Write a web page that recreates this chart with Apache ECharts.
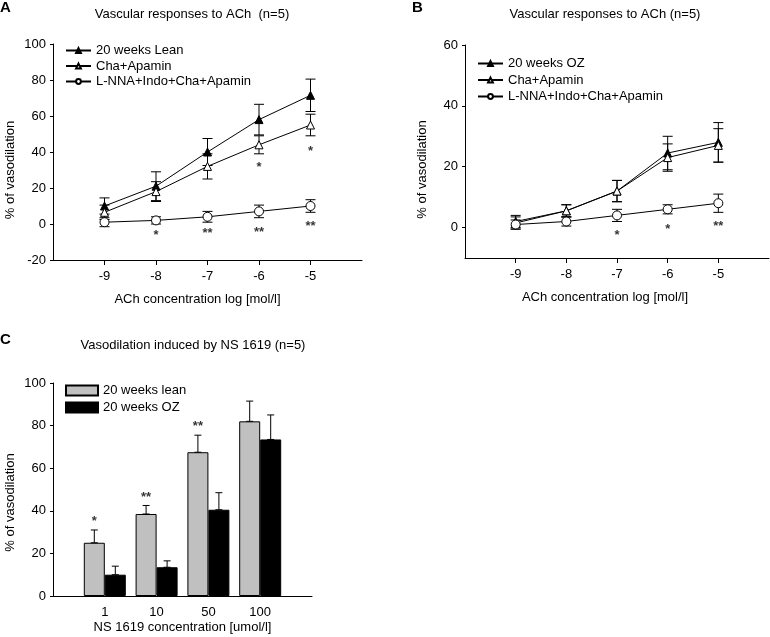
<!DOCTYPE html>
<html>
<head>
<meta charset="utf-8">
<script src="https://cdn.jsdelivr.net/npm/echarts@6/dist/echarts.min.js"></script>
<style>
  html, body { margin: 0; padding: 0; background: #fff; }
  #main { width: 770px; height: 637px; }
</style>
</head>
<body>
<div id="main"></div>
<script>
// panel A / B: log [ACh]
const logConc = [-9, -8, -7, -6, -5]

const leanMean = [10, 21, 40, 58, 71.5]
const leanSem = [4.5, 8, 7.5, 8.5, 9]
const chaLeanMean = [6.5, 18, 32, 44, 55]
const chaLeanSem = [4, 5.5, 7, 5, 6]
const lnnaLeanMean = [1, 2, 4, 7, 10]
const lnnaLeanSem = [2.5, 2, 3, 3.5, 3.5]

const ozMean = [2, 5.5, 12, 24.5, 28]
const ozSem = [2, 2, 3.5, 5.5, 6.5]
const chaOzMean = [1.5, 5.5, 12, 23, 27]
const chaOzSem = [2, 2, 3.5, 4.5, 5.5]
const lnnaOzMean = [1, 2, 4, 6, 8]
const lnnaOzSem = [1.5, 1.5, 2, 1.5, 3]

// significance marks [x, y, text]
const starsA = [[-8, -6.5, '*'], [-7, -5.5, '**'], [-6, -4.5, '**'], [-5, -1.5, '**'], [-6, 31.5, '*'], [-5, 40.5, '*']]
const starsB = [[-7, -2.5, '*'], [-6, -0.5, '*'], [-5, 0.5, '**']]

// panel C: NS 1619
const nsCats = ['1', '10', '50', '100']
const nsLeanMean = [25, 38.5, 67.5, 82]
const nsLeanSem = [6, 4, 8, 9.5]
const nsOzMean = [10, 13.5, 40.5, 73.5]
const nsOzSem = [4, 3, 8, 11.5]
const starsC = ['*', '**', '**']

const yTicksA = [-20, 0, 20, 40, 60, 80, 100]
const yTicksB = [0, 20, 40, 60]
const xTicks = [-9, -8, -7, -6, -5]

const FONT = '"Liberation Sans", Arial, sans-serif'
const txt = { color: '#000', fontFamily: FONT, fontSize: 13 }

var myChart = echarts.init(document.getElementById('main'))

function pairs(xs, ys) {
  return xs.map((x, i) => [x, ys[i]])
}

// error bar: [x, low, high], offset in px, cap half width
function errBars(xAxisIndex, yAxisIndex, data, capHalf, offset) {
  return {
    type: 'custom',
    xAxisIndex: xAxisIndex,
    yAxisIndex: yAxisIndex,
    z: 3,
    silent: true,
    data: data,
    renderItem: function (params, api) {
      const lo = api.coord([api.value(0), api.value(1)])
      const hi = api.coord([api.value(0), api.value(2)])
      const x = lo[0] + (offset || 0)
      const style = { stroke: '#000', lineWidth: 1 }
      return {
        type: 'group',
        children: [
          { type: 'line', shape: { x1: x, y1: lo[1], x2: x, y2: hi[1] }, style: style },
          { type: 'line', shape: { x1: x - capHalf, y1: hi[1], x2: x + capHalf, y2: hi[1] }, style: style },
          { type: 'line', shape: { x1: x - capHalf, y1: lo[1], x2: x + capHalf, y2: lo[1] }, style: style },
        ],
      }
    },
  }
}

function symErr(xs, mean, sem) {
  return xs.map((x, i) => [x, mean[i] - sem[i], mean[i] + sem[i]])
}

function lineSeries(name, xi, yi, xs, ys, symbol, filled, size) {
  return {
    name: name,
    type: 'line',
    xAxisIndex: xi,
    yAxisIndex: yi,
    data: pairs(xs, ys),
    symbol: symbol,
    symbolSize: size,
    showSymbol: true,
    z: 4,
    lineStyle: { color: '#000', width: 1 },
    itemStyle: { color: filled ? '#000' : '#fff', borderColor: '#000', borderWidth: 1 },
  }
}

function starSeries(xi, yi, data, offset) {
  return {
    type: 'scatter',
    xAxisIndex: xi,
    yAxisIndex: yi,
    symbolSize: 0,
    silent: true,
    z: 5,
    data: data.map((d) => ({ value: [d[0], d[1]], name: d[2] })),
    label: {
      show: true,
      position: 'inside',
      formatter: '{b}',
      offset: [offset || 0, 0],
      color: '#000',
      fontFamily: FONT,
      fontSize: 13,
      fontWeight: 'bold',
    },
  }
}

const logAxis = (gridIndex, nameShift) => ({
  type: 'value',
  gridIndex: gridIndex,
  min: -10,
  max: -4,
  name: 'ACh concentration log [mol/l]',
  nameLocation: 'middle',
  nameGap: 33,
  nameTextStyle: Object.assign({ padding: [0, nameShift, 0, 0] }, txt),
  splitLine: { show: false },
  axisLine: { onZero: false, lineStyle: { color: '#000', width: 1 } },
  axisTick: { customValues: xTicks, length: 5, lineStyle: { color: '#000' } },
  axisLabel: Object.assign({ customValues: xTicks, margin: 10 }, txt),
})

const valAxis = (gridIndex, min, max, ticks, nameShift) => ({
  type: 'value',
  gridIndex: gridIndex,
  min: min,
  max: max,
  name: '% of vasodilation',
  nameLocation: 'middle',
  nameGap: 36,
  nameTextStyle: Object.assign({ padding: [0, nameShift, 0, 0] }, txt),
  splitLine: { show: false },
  axisLine: { show: true, onZero: false, lineStyle: { color: '#000', width: 1 } },
  axisTick: { show: true, customValues: ticks, length: 3, lineStyle: { color: '#000' } },
  axisLabel: Object.assign({ customValues: ticks, margin: 7 }, txt),
})

const legendTxt = { color: '#000', fontFamily: FONT, fontSize: 13 }

let option = {
  animation: false,
  backgroundColor: '#fff',
  title: [
    { text: 'A', left: 0, top: 0, padding: 0, textStyle: { fontFamily: FONT, fontSize: 15, fontWeight: 'bold', color: '#000' } },
    { text: 'B', left: 412, top: 0, padding: 0, textStyle: { fontFamily: FONT, fontSize: 15, fontWeight: 'bold', color: '#000' } },
    { text: 'C', left: 0, top: 332, padding: 0, textStyle: { fontFamily: FONT, fontSize: 15, fontWeight: 'bold', color: '#000' } },
    { text: 'Vascular responses to ACh  (n=5)', left: 192, top: 8, padding: 0, textAlign: 'center', textStyle: { fontFamily: FONT, fontSize: 13, fontWeight: 'normal', color: '#000' } },
    { text: 'Vascular responses to ACh (n=5)', left: 605, top: 8, padding: 0, textAlign: 'center', textStyle: { fontFamily: FONT, fontSize: 13, fontWeight: 'normal', color: '#000' } },
    { text: 'Vasodilation induced by NS 1619 (n=5)', left: 193, top: 339, padding: 0, textAlign: 'center', textStyle: { fontFamily: FONT, fontSize: 13, fontWeight: 'normal', color: '#000' } },
  ],
  legend: [
    {
      left: 65, top: 44, padding: 0, orient: 'vertical', itemWidth: 25, itemHeight: 6, itemGap: 2.5,
      textStyle: legendTxt, selectedMode: false,
      data: ['20 weeks Lean', 'Cha+Apamin', 'L-NNA+Indo+Cha+Apamin'],
    },
    {
      left: 477, top: 57, padding: 0, orient: 'vertical', itemWidth: 25, itemHeight: 6, itemGap: 3.5,
      textStyle: legendTxt, selectedMode: false,
      data: ['20 weeks OZ', 'Cha+Apamin', 'L-NNA+Indo+Cha+Apamin'],
    },
    {
      left: 65, top: 384, padding: 0, orient: 'vertical', itemWidth: 32, itemHeight: 10, itemGap: 4,
      textStyle: legendTxt, selectedMode: false, icon: 'rect',
      data: ['20 weeks lean', '20 weeks OZ '],
    },
  ],
  grid: [
    { left: 53, top: 44, width: 309, height: 216 },
    { left: 465, top: 45, width: 304, height: 213 },
    { left: 53, top: 383, width: 259, height: 213 },
  ],
  xAxis: [
    logAxis(0, 20),
    logAxis(1, 24),
    {
      type: 'category',
      gridIndex: 2,
      data: [''].concat(nsCats, ['']),
      boundaryGap: false,
      name: 'NS 1619 concentration [umol/l]',
      nameLocation: 'middle',
      nameGap: 25,
      nameTextStyle: txt,
      axisLine: { onZero: false, lineStyle: { color: '#000', width: 1 } },
      axisTick: { show: false },
      axisLabel: Object.assign({ margin: 10, interval: 0 }, txt),
    },
  ],
  yAxis: [
    valAxis(0, -20, 100, yTicksA, 36),
    valAxis(1, -10, 60, yTicksB, 36),
    Object.assign(valAxis(2, 0, 100, yTicksA.slice(1), 26), { interval: 20 }),
  ],
  series: [
    // panel A
    errBars(0, 0, symErr(logConc, leanMean, leanSem), 5),
    errBars(0, 0, symErr(logConc, chaLeanMean, chaLeanSem), 5),
    errBars(0, 0, symErr(logConc, lnnaLeanMean, lnnaLeanSem), 5),
    lineSeries('20 weeks Lean', 0, 0, logConc, leanMean, 'triangle', true, 8),
    lineSeries('Cha+Apamin', 0, 0, logConc, chaLeanMean, 'triangle', false, 8),
    lineSeries('L-NNA+Indo+Cha+Apamin', 0, 0, logConc, lnnaLeanMean, 'circle', false, 9),
    starSeries(0, 0, starsA),
    // panel B
    errBars(1, 1, symErr(logConc, ozMean, ozSem), 5),
    errBars(1, 1, symErr(logConc, chaOzMean, chaOzSem), 5),
    errBars(1, 1, symErr(logConc, lnnaOzMean, lnnaOzSem), 5),
    lineSeries('20 weeks OZ', 1, 1, logConc, ozMean, 'triangle', true, 8),
    lineSeries('Cha+Apamin', 1, 1, logConc, chaOzMean, 'triangle', false, 8),
    lineSeries('L-NNA+Indo+Cha+Apamin', 1, 1, logConc, lnnaOzMean, 'circle', false, 9),
    starSeries(1, 1, starsB),
    // panel C
    {
      name: '20 weeks lean',
      type: 'bar',
      xAxisIndex: 2,
      yAxisIndex: 2,
      barWidth: 21,
      barGap: '0%',
      data: nsLeanMean.map((v, i) => [i + 1, v]),
      itemStyle: { color: '#c0c0c0', borderColor: '#000', borderWidth: 1 },
    },
    {
      name: '20 weeks OZ ',
      type: 'bar',
      xAxisIndex: 2,
      yAxisIndex: 2,
      barWidth: 21,
      data: nsOzMean.map((v, i) => [i + 1, v]),
      itemStyle: { color: '#000', borderColor: '#000', borderWidth: 1 },
    },
    errBars(2, 2, nsLeanMean.map((v, i) => [i + 1, v, v + nsLeanSem[i]]), 3.5, -10.5),
    errBars(2, 2, nsOzMean.map((v, i) => [i + 1, v, v + nsOzSem[i]]), 3.5, 10.5),
    starSeries(2, 2, starsC.map((s, i) => [i + 1, nsLeanMean[i] + nsLeanSem[i] + 4, s]), -10.5),
  ],
}

myChart.setOption(option)
</script>
</body>
</html>
